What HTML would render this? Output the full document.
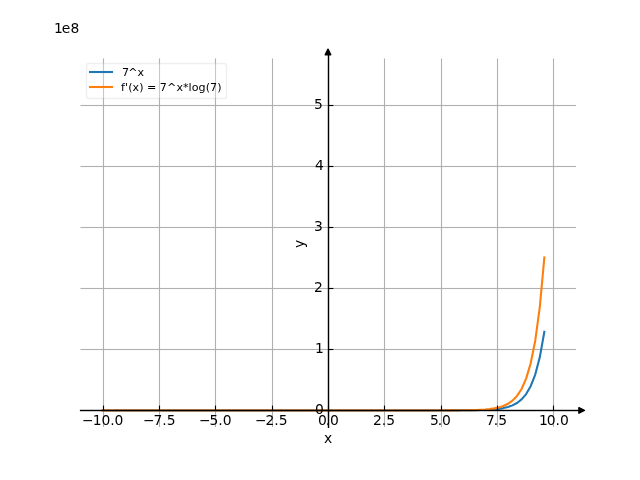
<!DOCTYPE html>
<html lang="en">
<head>
<meta charset="utf-8">
<title>7^x and its derivative</title>
<style>
html,body{margin:0;padding:0;background:#fff;}
body{width:640px;height:480px;overflow:hidden;}
svg{display:block;}
text{font-family:"DejaVu Sans","Liberation Sans",sans-serif;fill:#000;}
.t10{font-size:13.889px;}
.t8{font-size:11.111px;}
.head{stroke:#000;stroke-width:1.389;fill:#000;stroke-linejoin:round;}
.curve{fill:none;stroke-width:2.083;stroke-linecap:square;stroke-linejoin:round;}
</style>
</head>
<body>
<svg width="640" height="480" viewBox="0 0 640 480">
<rect x="0" y="0" width="640" height="480" fill="#fff"/>
<defs><clipPath id="ax"><rect x="80" y="57.6" width="496" height="369.6"/></clipPath></defs>
<g fill="#b0b0b0">
<rect x="102.945" y="58.5" width="1.111" height="368.5"/>
<rect x="158.945" y="58.5" width="1.111" height="368.5"/>
<rect x="214.945" y="58.5" width="1.111" height="368.5"/>
<rect x="271.945" y="58.5" width="1.111" height="368.5"/>
<rect x="327.945" y="58.5" width="1.111" height="368.5"/>
<rect x="383.945" y="58.5" width="1.111" height="368.5"/>
<rect x="440.945" y="58.5" width="1.111" height="368.5"/>
<rect x="496.945" y="58.5" width="1.111" height="368.5"/>
<rect x="552.944" y="58.5" width="1.111" height="368.5"/>
<rect x="80.5" y="409.945" width="495.5" height="1.111"/>
<rect x="80.5" y="348.945" width="495.5" height="1.111"/>
<rect x="80.5" y="287.945" width="495.5" height="1.111"/>
<rect x="80.5" y="226.945" width="495.5" height="1.111"/>
<rect x="80.5" y="165.945" width="495.5" height="1.111"/>
<rect x="80.5" y="104.945" width="495.5" height="1.111"/>
</g>
<g clip-path="url(#ax)">
<g fill="#1f77b4">
<rect x="101.508" y="409.353" width="342.631" height="2.083"/>
<rect x="444.14" y="409.344" width="4.56" height="2.083"/>
<rect x="448.7" y="409.334" width="4.55" height="2.083"/>
<rect x="453.25" y="409.324" width="4.56" height="2.083"/>
</g>
<path class="curve" stroke="#1f77b4" d="M457.81 410.36 L462.36 410.33 L466.92 410.3 L471.47 410.25 L476.03 410.18 L480.58 410.08 L485.13 409.93 L489.69 409.7 L494.24 409.36 L498.8 408.86 L503.35 408.11 L507.91 407.01 L512.46 405.38 L517.02 402.96 L521.57 399.38 L526.13 394.07 L530.68 386.21 L535.24 374.56 L539.79 357.31 L544.35 331.74"/>
<g fill="#ff7f0e">
<rect x="101.508" y="409.353" width="333.521" height="2.083"/>
<rect x="435.03" y="409.344" width="4.56" height="2.083"/>
<rect x="439.59" y="409.334" width="4.55" height="2.083"/>
<rect x="444.14" y="409.324" width="4.56" height="2.083"/>
</g>
<path class="curve" stroke="#ff7f0e" d="M448.7 410.36 L453.25 410.34 L457.81 410.31 L462.36 410.27 L466.92 410.21 L471.47 410.12 L476.03 409.98 L480.58 409.78 L485.13 409.48 L489.69 409.03 L494.24 408.37 L498.8 407.4 L503.35 405.95 L507.91 403.81 L512.46 400.63 L517.02 395.93 L521.57 388.96 L526.13 378.63 L530.68 363.33 L535.24 340.67 L539.79 307.09 L544.35 257.33"/>
</g>
<g fill="#000">
<rect x="102.945" y="405.639" width="1.111" height="4.861"/>
<rect x="158.945" y="405.639" width="1.111" height="4.861"/>
<rect x="214.945" y="405.639" width="1.111" height="4.861"/>
<rect x="271.945" y="405.639" width="1.111" height="4.861"/>
<rect x="327.945" y="405.639" width="1.111" height="4.861"/>
<rect x="383.945" y="405.639" width="1.111" height="4.861"/>
<rect x="440.945" y="405.639" width="1.111" height="4.861"/>
<rect x="496.945" y="405.639" width="1.111" height="4.861"/>
<rect x="552.944" y="405.639" width="1.111" height="4.861"/>
<rect x="328.5" y="409.945" width="4.861" height="1.111"/>
<rect x="328.5" y="348.945" width="4.861" height="1.111"/>
<rect x="328.5" y="287.945" width="4.861" height="1.111"/>
<rect x="328.5" y="226.945" width="4.861" height="1.111"/>
<rect x="328.5" y="165.945" width="4.861" height="1.111"/>
<rect x="328.5" y="104.945" width="4.861" height="1.111"/>
</g>
<g class="t10">
<text x="82.108 92.733 101.608 110.358 114.483" y="424.57">−10.0</text>
<text x="142.909 153.534 162.284 166.659" y="424.57">−7.5</text>
<text x="199.023 209.398 218.148 222.773" y="424.57">−5.0</text>
<text x="254.886 265.511 274.261 278.636" y="424.57">−2.5</text>
<text x="317.938 325.688 329.938" y="424.57">0.0</text>
<text x="372.926 381.676 386.176" y="424.57">2.5</text>
<text x="430.04 437.79 441.915" y="424.57">5.0</text>
<text x="485.903 493.653 498.153" y="424.57">7.5</text>
<text x="539.08 546.705 555.455 560.08" y="424.57">10.0</text>
<text x="323.875" y="442.76">x</text>
</g>
<g class="t10">
<text x="314.889" y="413.73">0</text>
<text x="315.014" y="352.61">1</text>
<text x="313.889" y="291.98">2</text>
<text x="313.889" y="230.85">3</text>
<text x="314.889" y="169.72">4</text>
<text x="313.889" y="108.6">5</text>
<text x="54 61.625 70.375" y="32.68">1e8</text>
</g>
<text class="t10" text-anchor="middle" transform="translate(303.72 243.9) rotate(-90)">y</text>
<g fill="#000">
<rect x="79.9" y="409.805" width="503.1" height="1.389"/>
<rect x="327.805" y="51" width="1.389" height="377"/>
</g>
<path class="head" d="M578.892 407.622L584.447 410.4L578.892 413.178Z"/>
<path class="head" d="M325.222 54.708L328 49.153L330.778 54.708Z"/>
<rect x="86.5" y="63.5" width="140" height="35" rx="2.222" ry="2.222" fill="#fff" stroke="#ccc" stroke-width="1.389" opacity="0.3"/>
<g fill="#1f77b4"><rect x="88.959" y="70.959" width="24.083" height="2.083"/></g>
<g fill="#ff7f0e"><rect x="88.959" y="85.959" width="24.083" height="2.083"/></g>
<g class="t8">
<text x="122.111 128.236 137.611" y="75.54">7^x</text>
<text x="121.111 125.111 128.236 132.611 139.236 143.611 147.111 156.486 159.736 167.111 176.486 183.111 188.486 191.861 198.611 205.736 210.111 217.236" y="90.85">f'(x) = 7^x*log(7)</text>
</g>
</svg>
</body>
</html>
